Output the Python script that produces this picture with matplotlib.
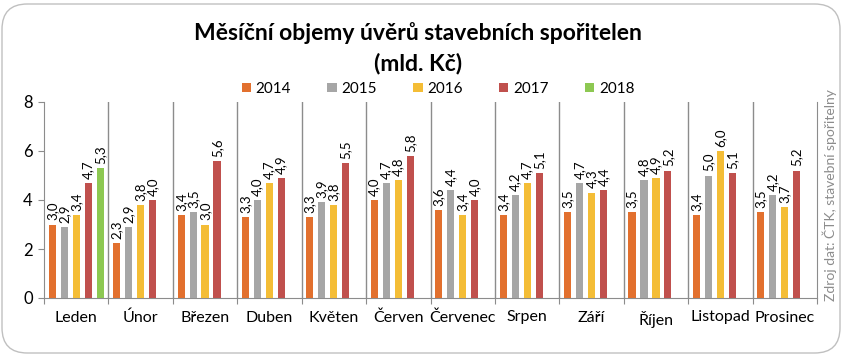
import matplotlib
matplotlib.use("Agg")
import matplotlib.pyplot as plt
import numpy as np
from matplotlib.patches import FancyBboxPatch

plt.rcParams["font.family"] = ["Lato", "DejaVu Sans"]

months = ["Leden", "Únor", "Březen", "Duben", "Květen", "Červen",
          "Červenec", "Srpen", "Září", "Říjen", "Listopad", "Prosinec"]
years = ["2014", "2015", "2016", "2017", "2018"]
v2014 = [3.0, 2.25, 3.4, 3.3, 3.3, 4.0, 3.6, 3.4, 3.5, 3.5, 3.4, 3.5]
v2015 = [2.9, 2.9, 3.5, 4.0, 3.9, 4.7, 4.4, 4.2, 4.7, 4.8, 5.0, 4.2]
v2016 = [3.4, 3.8, 3.0, 4.7, 3.8, 4.8, 3.4, 4.7, 4.3, 4.9, 6.0, 3.7]
v2017 = [4.7, 4.0, 5.6, 4.9, 5.5, 5.8, 4.0, 5.1, 4.4, 5.2, 5.1, 5.2]
v2018 = [5.3]
colors = ["#E2702E", "#A6A6A6", "#F4BD36", "#C0504D", "#8DC852"]

series = [v2014, v2015, v2016, v2017, v2018]

fig = plt.figure(figsize=(8.43, 3.55), dpi=100)
ax = fig.add_axes([44 / 843, 1 - 298 / 355, (817 - 44) / 843, (298 - 102) / 355])

# grouped bars, 5 slots per month
step = 0.186
width = 0.11
x = np.arange(len(months))
for i, (vals, col, yr) in enumerate(zip(series, colors, years)):
    xs = x[:len(vals)] + (i - 2) * step
    bars = ax.bar(xs, vals, width=width, color=col, label=yr, zorder=3)
    for b, v in zip(bars, vals):
        ax.annotate(("%.1f" % round(v + 0.001, 1)).replace(".", ","),
                    (b.get_x() + b.get_width() / 2, v),
                    xytext=(0, 3), textcoords="offset points",
                    rotation=90, ha="center", va="bottom", fontsize=9.5)

ax.set_xlim(-0.5, 11.5)
ax.set_ylim(0, 8)
ax.set_yticks([0, 2, 4, 6, 8])
ax.set_xticks(np.arange(-0.5, 12, 1))
ax.set_xticklabels([])
ax.set_xticks(x, minor=True)
ax.set_xticklabels(months, minor=True, fontsize=11.5)
ax.tick_params(axis="x", which="minor", length=0, pad=9)
ax.tick_params(axis="x", which="major", length=4, color="#8c8c8c", direction="out")
ax.tick_params(axis="y", length=4, color="#8c8c8c", labelsize=12, pad=4)
for b in np.arange(0.5, 11, 1):
    ax.axvline(b, color="#8c8c8c", lw=1, zorder=1)
ax.spines["top"].set_visible(False)
for s in ["left", "bottom", "right"]:
    ax.spines[s].set_color("#8c8c8c")

fig.text(418 / 843, 1 - 33 / 355, "Měsíční objemy úvěrů stavebních spořitelen",
         ha="center", va="center", fontsize=16.5, fontweight="bold")
fig.text(418 / 843, 1 - 63 / 355, "(mld. Kč)",
         ha="center", va="center", fontsize=16.5, fontweight="bold")

fig.legend(loc="center", bbox_to_anchor=(438 / 843, 1 - 89 / 355), ncol=5,
           frameon=False, fontsize=11, handlelength=0.6, handleheight=0.6,
           handletextpad=0.3, columnspacing=2.4)

fig.text(830 / 843, 1 - 195 / 355, "Zdroj dat: ČTK, stavební spořitelny",
         rotation=90, ha="center", va="center", fontsize=10, color="#8c8c8c")

frame = FancyBboxPatch((2 / 843, 2 / 355), 838 / 843, 349 / 355,
                       boxstyle="round,pad=0,rounding_size=0.03",
                       transform=fig.transFigure, fill=False,
                       edgecolor="#c0c0c0", lw=1, mutation_aspect=843 / 355)
fig.patches.append(frame)

fig.savefig("out.png", dpi=100)
